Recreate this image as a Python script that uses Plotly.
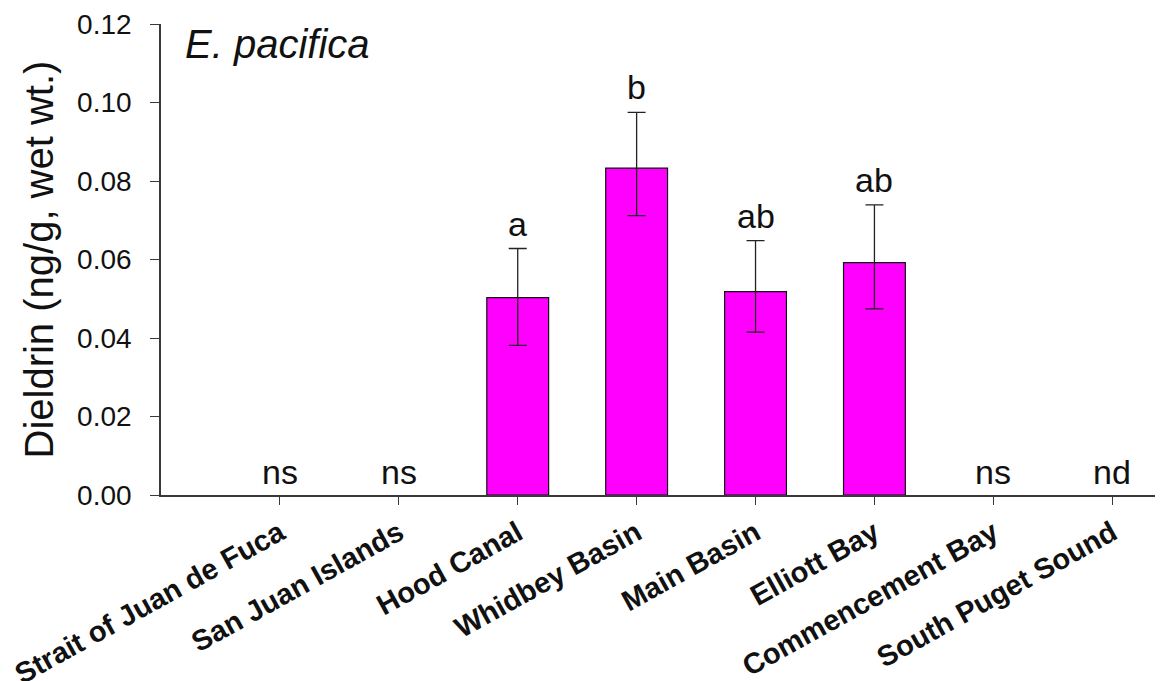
import plotly.graph_objects as go

categories = ["Strait of Juan de Fuca", "San Juan Islands", "Hood Canal", "Whidbey Basin",
              "Main Basin", "Elliott Bay", "Commencement Bay", "South Puget Sound"]
means = [None, None, 0.0503, 0.0833, 0.0518, 0.0592, None, None]
err_plus = [0, 0, 0.0125, 0.0142, 0.0130, 0.0147, 0, 0]
err_minus = [0, 0, 0.0122, 0.0121, 0.0103, 0.0118, 0, 0]
letters = ["ns", "ns", "a", "b", "ab", "ab", "ns", "nd"]

y_ticks = [0.00, 0.02, 0.04, 0.06, 0.08, 0.10, 0.12]

FONT = "Arial, Liberation Sans, sans-serif"
AXC = "#3a3a3a"

x_idx = list(range(len(categories)))

fig = go.Figure()
fig.add_trace(go.Bar(
    x=x_idx, y=means, width=0.52,
    marker=dict(color="#FF00FF", line=dict(color="#111111", width=1.2)),
    error_y=dict(type="data", symmetric=False, array=err_plus, arrayminus=err_minus,
                 color="#222222", thickness=1.3, width=9),
    showlegend=False,
))

annotations = []
for i, lab in enumerate(letters):
    top = (means[i] or 0) + err_plus[i]
    annotations.append(dict(x=i, y=top, xref="x", yref="y", text=lab, showarrow=False,
                            yanchor="bottom", yshift=2 if top == 0 else 4,
                            font=dict(family=FONT, size=34, color="#111111")))

annotations.append(dict(x=-0.123, y=0.5, xref="paper", yref="paper",
                        text="Dieldrin (ng/g, wet wt.)", textangle=-90, showarrow=False,
                        xanchor="center", yanchor="middle",
                        font=dict(family=FONT, size=40, color="#111111")))
annotations.append(dict(x=0.022, y=0.958, xref="paper", yref="paper",
                        text="<i>E. pacifica</i>", showarrow=False,
                        xanchor="left", yanchor="middle",
                        font=dict(family=FONT, size=40, color="#111111")))

fig.update_layout(
    width=1163, height=681,
    margin=dict(l=153, r=10, t=16, b=194),
    paper_bgcolor="white", plot_bgcolor="white",
    annotations=annotations,
    xaxis=dict(
        range=[-1, 7.41], tickmode="array", tickvals=x_idx, ticktext=categories,
        tickangle=-29, ticks="outside", ticklen=8, tickwidth=1.3, tickcolor=AXC,
        showline=True, linecolor=AXC, linewidth=1.6, showgrid=False, zeroline=False,
        automargin=False,
        tickfont=dict(family=FONT, size=29, color="#111111", weight="bold"),
    ),
    yaxis=dict(
        range=[0, 0.12], tickmode="array", tickvals=y_ticks,
        ticktext=[f"{v:.2f}" for v in y_ticks],
        ticks="outside", ticklen=9, tickwidth=1.3, tickcolor=AXC,
        showline=True, linecolor=AXC, linewidth=1.6, showgrid=False, zeroline=False,
        ticklabelstandoff=13, automargin=False,
        tickfont=dict(family=FONT, size=28, color="#111111"),
    ),
)

fig.write_html("out.html")
